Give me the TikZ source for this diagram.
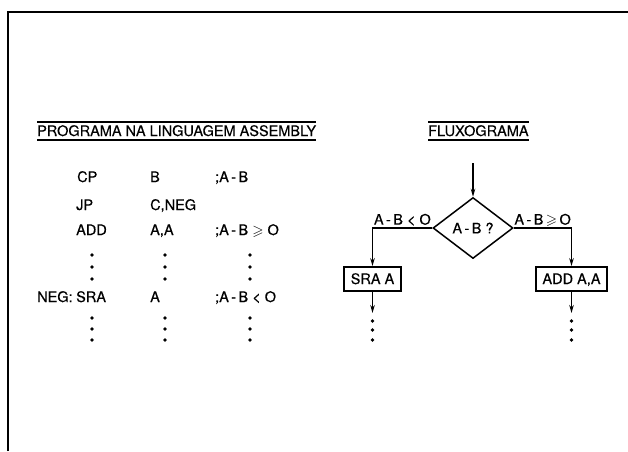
\documentclass[tikz,border=0pt]{standalone}
\usepackage{amssymb}
\usepackage{fontspec}
\setmainfont{TeX Gyre Heros}[FakeBold=0.3]
\usetikzlibrary{arrows.meta,shapes.geometric,calc}

\newcommand{\ab}{A\,-\,B}
\newcommand{\fs}{\fontsize{14.5}{16}\selectfont}

\begin{document}
\begin{tikzpicture}[x=1pt, y=-1pt,
    txt/.style={font=\fs, inner sep=0pt, text height=10pt, text depth=0pt, anchor=west},
    head/.style={font=\fs, inner xsep=0pt, inner ysep=4pt, text height=10pt, text depth=0pt, anchor=west},
    rule/.style={line width=1.6pt},
    box/.style={rectangle, draw, line width=1.8pt, inner xsep=6.5pt, inner ysep=0pt, text height=10pt, text depth=0pt, minimum height=24pt, font=\fs},
    dec/.style={diamond, draw, line width=1.5pt, minimum width=80pt, minimum height=61pt, inner sep=0pt, font=\fs},
    lab/.style={font=\fs, inner sep=2.5pt, text height=10pt, text depth=0pt},
    arr/.style={-{Stealth[length=8pt,width=4.5pt]}, line width=1.8pt}
]
\useasboundingbox (0,0) rectangle (628,451);
\draw[line width=2.4pt] (8,451) -- (8,12) -- (628,12);

% headings
\node[head] (prog) at (37,131) {PROGRAMA NA LINGUAGEM ASSEMBLY};
\node[head] (flux) at (428,131) {FLUXOGRAMA};
\foreach \h in {prog,flux} {
  \draw[rule] (\h.north west) -- (\h.north east);
  \draw[rule] (\h.south west) -- (\h.south east);
}

% assembly program
\node[txt] (cp) at (77,177) {CP};
\node[txt] (cpop) at (150,177) {B};
\node[txt] (cpcom) at (215,177) {;\ab};
\node[txt] (jp) at (76,205) {JP};
\node[txt] (jpop) at (150,205) {C,NEG};
\node[txt] (add) at (76,230) {ADD};
\node[txt] (addop) at (150,230) {A,A};
\node[txt] (addcom) at (215,230) {;\ab\ $\geqslant$ O};
\node[txt] (neg) at (37,297) {NEG:};
\node[txt] (sra) at (76,297) {SRA};
\node[txt] (sraop) at (150,297) {A};
\node[txt] (sracom) at (215,297) {;\ab\ < O};
\foreach \x in {92,165,250}
  \foreach \y in {255,267,279,318,329,340}
    \fill (\x,\y) circle (1.9pt);

% flowchart
\coordinate (in) at (473,163);
\node[dec] (test) at (473,228) {\ab\ ?};
\node[box] (srabox) at (372.5,279) {SRA A};
\node[box] (addbox) at (571.5,279) {ADD A,A};
\coordinate (sraout) at (372.5,313);
\coordinate (addout) at (571.5,313);

\draw[arr] (in) -- (test.north);
\draw[arr] (test.west) -| node[lab, pos=0.25, above] {\ab\ < O} (srabox.north);
\draw[arr] (test.east) -| node[lab, pos=0.25, above] {\ab\,$\geqslant$\,O} (addbox.north);
\draw[arr] (srabox.south) -- (sraout);
\draw[arr] (addbox.south) -- (addout);
\foreach \x in {372.5,571.5}
  \foreach \y in {321,330,340}
    \fill (\x,\y) circle (1.9pt);
\end{tikzpicture}
\end{document}
